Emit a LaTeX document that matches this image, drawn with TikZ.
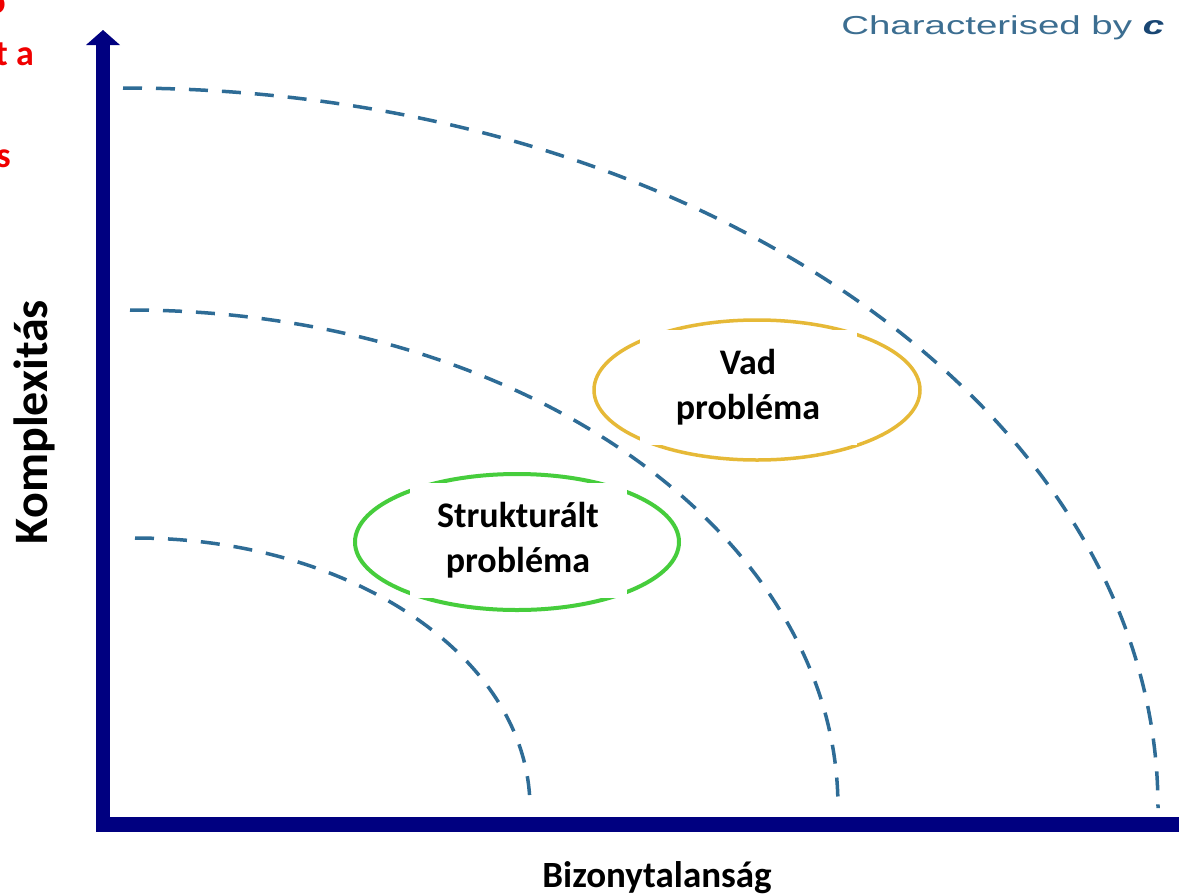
\documentclass[tikz,border=0pt]{standalone}
\usepackage{fontspec}
\setmainfont{Carlito}
\newfontfamily\arialfont{Liberation Sans}
\definecolor{axisblue}{RGB}{0,0,128}
\definecolor{dashblue}{RGB}{46,108,150}
\definecolor{vadgold}{RGB}{230,185,55}
\definecolor{strgreen}{RGB}{70,205,60}
\definecolor{titleblue}{RGB}{60,110,145}
\definecolor{darkc}{RGB}{25,70,115}
\definecolor{redtxt}{RGB}{240,0,0}
\tikzset{
  ring/.style={draw=dashblue, line width=3.5pt, dash pattern=on 19pt off 14pt, line cap=butt},
  axisline/.style={draw=axisblue, line width=15pt, line cap=butt},
  labelbox/.style={fill=white, draw=none, align=center, inner sep=0pt,
    minimum width=217pt, minimum height=115pt,
    font=\fontsize{36pt}{45pt}\selectfont\bfseries},
  axislabel/.style={font=\fontsize{#1}{#1}\selectfont\bfseries, inner sep=0pt},
  redfrag/.style={font=\fontsize{36pt}{40pt}\selectfont\bfseries, text=redtxt, inner sep=0pt, anchor=base east},
}
\begin{document}
\begin{tikzpicture}[x=1pt,y=-1pt]
\useasboundingbox (0,0) rectangle (1179,895);
\clip (0,0) rectangle (1179,895);
\fill[white] (0,0) rectangle (1179,895);

% dashed quarter ellipses
\draw[ring] (135,538) arc[start angle=90, end angle=0, x radius=395pt, y radius=270pt];
\draw[ring] (130,310) arc[start angle=90, end angle=0, x radius=708pt, y radius=498pt];
\draw[ring] (123,88) arc[start angle=90, end angle=0, x radius=1035pt, y radius=720pt];

% ellipses
\draw[draw=vadgold, line width=3.5pt] (757,390) ellipse [x radius=163pt, y radius=70pt];
\draw[draw=strgreen, line width=4pt] (517,542) ellipse [x radius=162pt, y radius=68pt];

% label boxes
\node[labelbox] (vad) at (748,387) {Vad\\probléma};
\node[labelbox] (str) at (518,540) {Strukturált\\probléma};

% axes
\coordinate (O) at (103,824);
\coordinate (xend) at (1200,824);
\coordinate (ytop) at (103,42);
\draw[axisline] (96,824) -- (xend);
\draw[axisline, line width=14pt] (103,831) -- (ytop);
\fill[axisblue] (86,45) -- (103,30) -- (120,45) -- cycle;

% axis labels
\node[axislabel=48pt, rotate=90, anchor=base] (ylab) at (47,422) {Komplexitás};
\node[axislabel=37pt, anchor=base] (xlab) at (657,887) {Bizonytalanság};

% title fragment
\node[inner sep=0pt, anchor=base west, xscale=1.48, text=titleblue,
  font=\arialfont\fontsize{26pt}{30pt}\selectfont] (title) at (841,34)
  {Characterised by {\bfseries\itshape\color{darkc}c}};

% red fragments
\node[redfrag] (r1) at (6,13) {o};
\node[redfrag] (r2) at (34,65) {t a};
\node[redfrag] (r3) at (11,167) {s};
\end{tikzpicture}
\end{document}
